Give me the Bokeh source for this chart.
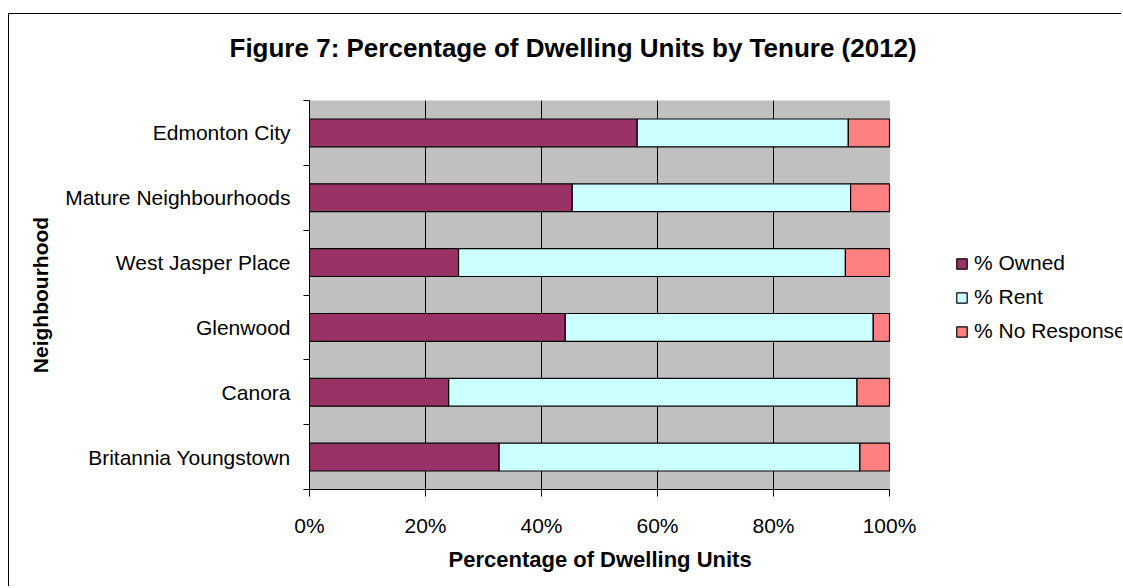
from bokeh.plotting import figure
from bokeh.models import (ColumnDataSource, Range1d, FixedTicker, Legend,
                          LegendItem, Title, BoxAnnotation)
from bokeh.embed import file_html
from bokeh.resources import INLINE

# ---------------- data ----------------
categories = ["Edmonton City", "Mature Neighbourhoods", "West Jasper Place",
              "Glenwood", "Canora", "Britannia Youngstown"]
owned = [56.5, 45.3, 25.7, 44.1, 24.0, 32.7]
rent = [36.4, 48.0, 66.7, 53.1, 70.4, 62.2]
no_response = [7.1, 6.7, 7.6, 2.8, 5.6, 5.1]
series_names = ["% Owned", "% Rent", "% No Response"]
x_ticks = [0, 20, 40, 60, 80, 100]

colors = ["#993366", "#CCFFFF", "#FF8080"]
FONT = "Liberation Sans"

# ---------------- layout constants (px) ----------------
W, H = 1113, 573
LEFT, TOP, BOTTOM = 300, 86, 98
PLOT_W = 580                      # width of the grey plot area
FRAME_W = W - LEFT                # frame runs to the right edge (room for legend)
X_MAX = 100
x_end = X_MAX * FRAME_W / PLOT_W

n = len(categories)
y_pos = [n - i - 0.5 for i in range(n)]  # first category at top
source = ColumnDataSource(dict(y=y_pos, cat=categories, owned=owned,
                               rent=rent, no_response=no_response))

main_title = Title(text="Figure 7: Percentage of Dwelling Units by Tenure (2012)",
                   align="left", offset=-80, vertical_align="bottom",
                   standoff=0, text_font=FONT, text_font_size="26px",
                   text_font_style="bold", text_color="#000000")

p = figure(width=W, height=H, output_backend="svg", toolbar_location=None,
           x_range=Range1d(0, x_end), y_range=Range1d(0, n),
           min_border_left=LEFT, min_border_right=0,
           min_border_top=TOP, min_border_bottom=BOTTOM,
           title=main_title)
p.styles = {"position": "relative", "left": "8px", "top": "13px",
            "border-left": "1px solid #000", "border-top": "1px solid #000"}

# spacer between the title and the plot area
p.add_layout(Title(text=" ", text_font_size="1px", standoff=35), "above")

p.background_fill_color = "#FFFFFF"
p.border_fill_color = "#FFFFFF"
p.outline_line_color = None

# grey plot area
p.add_layout(BoxAnnotation(left=0, right=X_MAX, bottom=0, top=n,
                           fill_color="#C0C0C0", fill_alpha=1.0,
                           line_color="#808080", line_width=1,
                           level="image"))

renderers = p.hbar_stack(["owned", "rent", "no_response"], y="y", height=0.43,
                         color=colors, line_color="#000000", line_width=1.2,
                         source=source)

# grid
p.ygrid.grid_line_color = None
p.xgrid.grid_line_color = "#000000"
p.xgrid.grid_line_width = 1
p.xgrid.ticker = FixedTicker(ticks=x_ticks[1:-1])
p.xgrid.bounds = (0, n)

# x axis
xa = p.xaxis[0]
xa.bounds = (0, X_MAX)
xa.ticker = FixedTicker(ticks=x_ticks, minor_ticks=[])
xa.major_label_overrides = {t: f"{t}%" for t in x_ticks}
xa.major_tick_out = 7
xa.major_tick_in = 0
xa.minor_tick_out = 0
xa.minor_tick_in = 0
xa.axis_line_color = "#000000"
xa.major_tick_line_color = "#000000"
xa.major_label_text_font = FONT
xa.major_label_text_font_size = "21px"
xa.major_label_text_color = "#000000"
xa.major_label_standoff = 17

# x axis title, centred under the grey plot area
p.add_layout(Title(text="Percentage of Dwelling Units", align="left",
                   offset=139, vertical_align="top", standoff=14,
                   text_font=FONT, text_font_size="22px",
                   text_font_style="bold", text_color="#000000"), "below")

# y axis
ya = p.yaxis[0]
ya.ticker = FixedTicker(ticks=y_pos, minor_ticks=list(range(n + 1)))
ya.major_label_overrides = {y: c for y, c in zip(y_pos, categories)}
ya.major_tick_out = 0
ya.major_tick_in = 0
ya.minor_tick_out = 6
ya.minor_tick_in = 0
ya.minor_tick_line_color = "#000000"
ya.axis_line_color = "#000000"
ya.major_label_text_font = FONT
ya.major_label_text_font_size = "21px"
ya.major_label_text_color = "#000000"
ya.major_label_standoff = 13
ya.axis_label = "Neighbourhood"
ya.axis_label_text_font = FONT
ya.axis_label_text_font_size = "21px"
ya.axis_label_text_font_style = "bold"
ya.axis_label_text_color = "#000000"
ya.axis_label_standoff = 10

# legend, to the right of the grey plot area
legend = Legend(items=[LegendItem(label=nm, renderers=[r])
                       for nm, r in zip(series_names, renderers)],
                location=(646, 146), orientation="vertical",
                margin=0, padding=0, spacing=10,
                glyph_width=13, glyph_height=13, label_height=24,
                label_standoff=6,
                label_text_font=FONT, label_text_font_size="21px",
                label_text_color="#000000",
                background_fill_alpha=0, border_line_color=None)
p.add_layout(legend, "center")

open("out.html", "w").write(file_html(p, INLINE))
